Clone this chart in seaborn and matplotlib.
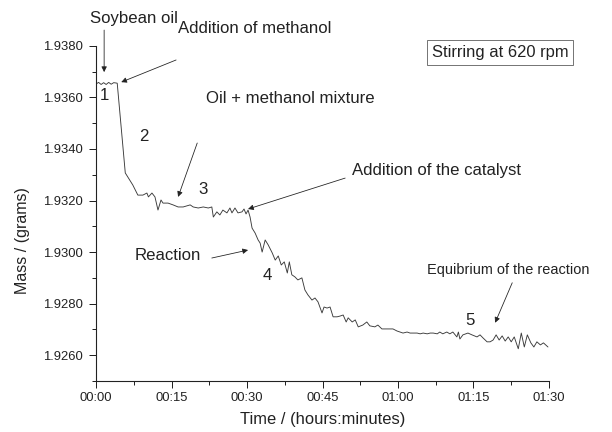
import matplotlib
matplotlib.use("Agg")
import matplotlib.pyplot as plt
import matplotlib.ticker as mticker
import seaborn as sns
import pandas as pd

# === data (time in minutes, mass in grams) ===
minutes = [
    0.0, 0.5, 1.0, 1.5, 2.0, 2.5, 3.0, 3.5, 4.2,
    5.8, 7.3, 8.3, 9.3, 10.1, 10.4, 11.1, 11.7, 12.3, 12.9, 13.3, 14.3, 15.3, 16.3, 17.3, 18.7,
    19.3, 20.3, 21.3, 22.3, 23.0, 23.3, 24.0, 24.6, 25.2, 26.0, 26.6, 27.0, 27.6, 28.2, 29.0, 29.4, 29.8, 30.2,
    30.6, 31.0, 31.6, 32.2, 32.6, 33.0, 33.6, 34.2, 35.0, 35.6, 36.2, 36.8, 37.4, 38.0, 38.4, 38.9, 39.5, 40.1,
    40.9, 41.5, 42.1, 42.9, 43.5, 44.1, 44.9, 45.3, 45.9, 46.5, 47.1, 47.9, 48.5, 49.1, 49.7, 50.1, 50.9, 51.5,
    52.1, 53.0, 53.8, 54.4, 55.4, 56.0,
    56.8, 57.8, 59.0, 59.8, 60.4, 61.0, 61.8, 62.4, 63.0, 63.8, 64.4, 65.0, 65.8, 66.4, 67.0, 67.8, 68.3, 68.9,
    69.7, 70.3, 70.9, 71.7, 72.0, 72.3,
    72.9, 73.9, 74.7, 75.7, 76.3, 76.9, 77.7, 78.3, 78.9, 79.5, 80.1, 80.7, 81.3, 81.9, 82.5, 83.1, 83.9, 84.5,
    85.1, 85.7, 86.4, 87.0, 87.6, 88.3, 88.9, 89.8,
]
mass = [
    1.93652, 1.93658, 1.93650, 1.93657, 1.93650, 1.93658, 1.93651, 1.93657, 1.93655,
    1.93307, 1.93260, 1.93221, 1.93221, 1.93229, 1.93214, 1.93229, 1.93214, 1.93163, 1.93202, 1.93190, 1.93190,
    1.93183, 1.93175, 1.93175, 1.93183,
    1.93175, 1.93171, 1.93175, 1.93171, 1.93175, 1.93136, 1.93156, 1.93144, 1.93163, 1.93152, 1.93171, 1.93152,
    1.93171, 1.93152, 1.93156, 1.93167, 1.93148, 1.93163,
    1.93136, 1.93093, 1.93074, 1.93047, 1.93035, 1.93000, 1.93047, 1.93028, 1.92997, 1.92969, 1.92985, 1.92950,
    1.92962, 1.92919, 1.92962, 1.92912, 1.92904, 1.92892,
    1.92900, 1.92853, 1.92834, 1.92814, 1.92822, 1.92807, 1.92764, 1.92787, 1.92783, 1.92787, 1.92749, 1.92749,
    1.92752, 1.92756, 1.92729, 1.92745, 1.92729, 1.92737,
    1.92710, 1.92717, 1.92729, 1.92714, 1.92710, 1.92717,
    1.92702, 1.92702, 1.92702, 1.92694, 1.92690, 1.92686, 1.92690, 1.92686, 1.92686, 1.92686, 1.92683, 1.92686,
    1.92683, 1.92686, 1.92686, 1.92683, 1.92690, 1.92683,
    1.92690, 1.92683, 1.92690, 1.92671, 1.92690, 1.92663,
    1.92679, 1.92686, 1.92679, 1.92671, 1.92679, 1.92667, 1.92652, 1.92652, 1.92659, 1.92679, 1.92659, 1.92675,
    1.92655, 1.92671, 1.92652, 1.92671, 1.92625, 1.92686,
    1.92632, 1.92679, 1.92648, 1.92632, 1.92652, 1.92640, 1.92648, 1.92632,
]

x_ticks = [0, 15, 30, 45, 60, 75, 90]
y_ticks = [1.9260, 1.9280, 1.9300, 1.9320, 1.9340, 1.9360, 1.9380]
stage_labels = ["1", "2", "3", "4", "5"]
stage_t = [1.6, 9.5, 21.3, 34.0, 74.3]
stage_m = [1.93609, 1.93450, 1.93241, 1.92911, 1.92733]

df = pd.DataFrame({"Time": minutes, "Mass": mass})

# === style ===
sns.set_theme(style="white")
plt.rcParams["font.family"] = ["Liberation Sans", "DejaVu Sans"]

fig = plt.figure(figsize=(8.5, 6), dpi=72)
ax = fig.add_axes([0.157, 0.118, 0.740, 0.776])

sns.lineplot(data=df, x="Time", y="Mass", color="#3a3a3a", linewidth=0.9, ax=ax)

ax.set_xlim(0, 90)
ax.set_ylim(1.9250, 1.9380)
ax.set_xticks(x_ticks)
ax.set_yticks(y_ticks)
ax.xaxis.set_minor_locator(mticker.MultipleLocator(7.5))
ax.yaxis.set_minor_locator(mticker.MultipleLocator(0.001))
ax.xaxis.set_major_formatter(mticker.FuncFormatter(lambda v, p: f"{int(v) // 60:02d}:{int(v) % 60:02d}"))
ax.yaxis.set_major_formatter(mticker.FormatStrFormatter("%.4f"))
ax.tick_params(axis="both", which="major", direction="out", length=7, width=1,
               labelsize=13, colors="#222222", bottom=True, left=True)
ax.tick_params(axis="y", which="major", pad=6)
ax.tick_params(axis="x", which="major", pad=4)
ax.tick_params(axis="both", which="minor", direction="out", length=4, width=1,
               bottom=True, left=True, color="#222222")

for side in ["top", "right"]:
    ax.spines[side].set_visible(False)
for side in ["left", "bottom"]:
    ax.spines[side].set_color("#222222")
    ax.spines[side].set_linewidth(1.1)

ax.set_xlabel("Time / (hours:minutes)", fontsize=16.5, color="#222222")
ax.set_ylabel("Mass / (grams)", fontsize=16, color="#222222")
ax.xaxis.set_label_coords(0.5, -0.093)
ax.yaxis.set_label_coords(-0.145, 0.42)
ax.grid(False)

# === annotations ===
arrow = dict(arrowstyle="-|>", color="#222222", lw=0.8, mutation_scale=11, shrinkA=0, shrinkB=0)
txt = dict(fontsize=16.7, color="#222222")

ax.annotate("", xy=(1.6, 1.93698), xytext=(1.6, 1.93861), arrowprops=arrow, annotation_clip=False)
ax.text(7.5, 1.93905, "Soybean oil", ha="center", va="center", clip_on=False, **txt)

ax.annotate("", xy=(5.0, 1.93659), xytext=(15.9, 1.93745), arrowprops=arrow)
ax.text(16.3, 1.93866, "Addition of methanol", ha="left", va="center", clip_on=False, **txt)

ax.annotate("", xy=(16.3, 1.93214), xytext=(20.1, 1.93423), arrowprops=arrow)
ax.text(21.9, 1.93597, "Oil + methanol mixture", ha="left", va="center", **txt)

ax.annotate("", xy=(30.2, 1.93167), xytext=(49.5, 1.93287), arrowprops=arrow)
ax.text(50.9, 1.93318, "Addition of the catalyst", ha="left", va="center", **txt)

ax.annotate("", xy=(30.2, 1.93008), xytext=(23.0, 1.92977), arrowprops=arrow)
ax.text(7.7, 1.92985, "Reaction", ha="left", va="center", **txt)

ax.annotate("", xy=(79.3, 1.92726), xytext=(82.7, 1.92881), arrowprops=arrow)
ax.text(65.8, 1.92931, "Equibrium of the reaction", ha="left", va="center", fontsize=14.5, color="#222222")

for lab, t, m in zip(stage_labels, stage_t, stage_m):
    ax.text(t, m, lab, ha="center", va="center", **txt)

ax.text(80.3, 1.93774, "Stirring at 620 rpm", ha="center", va="center", fontsize=16.5, color="#222222",
        bbox=dict(boxstyle="square,pad=0.28", fc="white", ec="#555555", lw=0.8))

fig.savefig("out.png", dpi=72)
